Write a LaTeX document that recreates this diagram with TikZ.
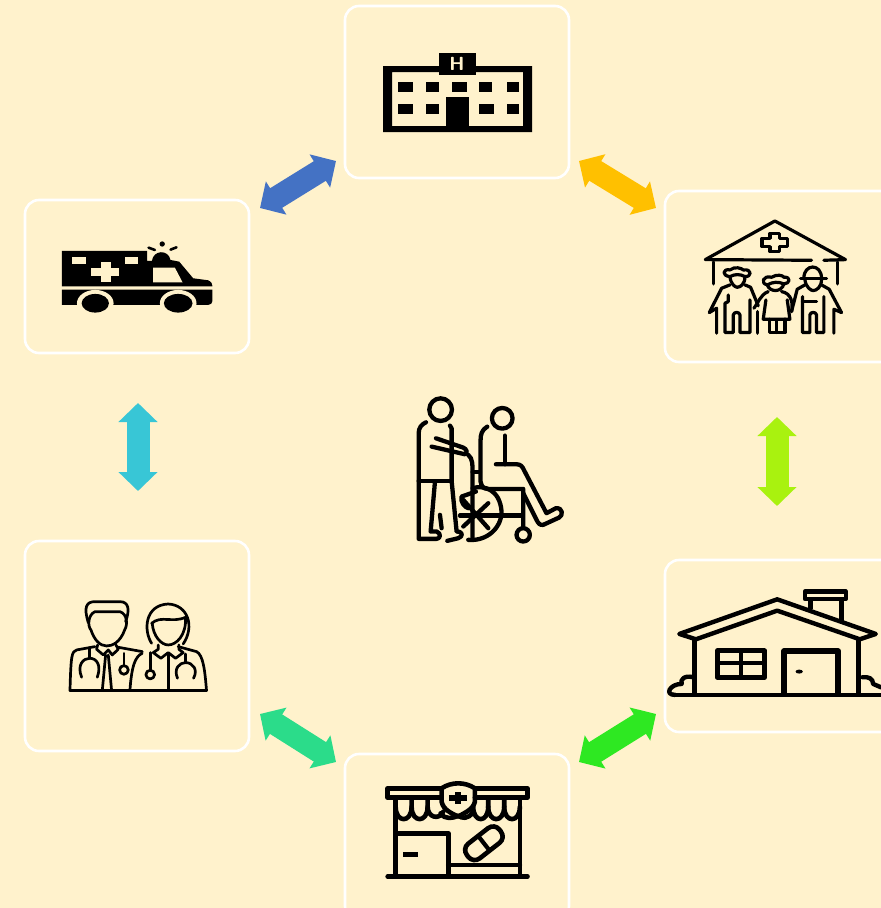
\documentclass[tikz,border=0pt]{standalone}
\usetikzlibrary{arrows.meta}
\definecolor{bg}{HTML}{FFF2CC}
\definecolor{arblue}{HTML}{4472C4}
\definecolor{aryellow}{HTML}{FFC000}
\definecolor{arlime}{HTML}{A9F20F}
\definecolor{argreen}{HTML}{2EE822}
\definecolor{arteal}{HTML}{2BDC8A}
\definecolor{arcyan}{HTML}{38C6D6}
\tikzset{
 card/.style={draw=white,line width=2.6pt,rounded corners=14pt,fill=bg},
 fat/.style={line width=23pt,{Triangle[length=19pt,width=38pt]}-{Triangle[length=19pt,width=38pt]}},
}
\begin{document}
\begin{tikzpicture}[x=1pt,y=-1pt]
\useasboundingbox (0,0) rectangle (881,908);
\fill[bg] (0,0) rectangle (881,908);
% cards
\draw[card] (345,6) rectangle (569,178); \node (hosp) at (457,92) {};
\draw[card] (665,191) rectangle (895,362); \node (care) at (775,276) {};
\draw[card] (665,560) rectangle (895,732); \node (home) at (775,646) {};
\draw[card] (345,754) rectangle (569,920); \node (pharm) at (457,837) {};
\draw[card] (25,541) rectangle (249,751); \node (docs) at (137,646) {};
\draw[card] (25,200) rectangle (249,353); \node (amb) at (137,276) {};
% connector ends
\coordinate (h1) at (260,208); \coordinate (h2) at (336,161);
\coordinate (y1) at (579,161); \coordinate (y2) at (656,208);
\coordinate (l1) at (777,417); \coordinate (l2) at (777,506);
\coordinate (g1) at (656,714); \coordinate (g2) at (579,762);
\coordinate (t1) at (336,762); \coordinate (t2) at (260,714);
\coordinate (c1) at (138,491); \coordinate (c2) at (138,403);
\draw[fat,arblue] (h1) -- (h2);
\draw[fat,aryellow] (y1) -- (y2);
\draw[fat,arlime] (l1) -- (l2);
\draw[fat,argreen] (g1) -- (g2);
\draw[fat,arteal] (t1) -- (t2);
\draw[fat,arcyan] (c1) -- (c2);
% hospital
\fill[even odd rule] (383,66) rectangle (532,132) (392,72) rectangle (523,126);
\fill (439,53) rectangle (476,75);
\fill (446,97) rectangle (469,128);
\foreach \x/\w in {398/15,426/13,452/15,479/13,507/12}{\fill (\x,82) rectangle +(\w,10);}
\foreach \x/\w in {398/15,426/13,479/15,507/12}{\fill (\x,104) rectangle +(\w,9.5);}
\node[text=bg,font=\bfseries\sffamily\fontsize{19}{19}\selectfont,inner sep=0pt] (hlabel) at (457,63.5) {H};
% care home
\begin{scope}[shift={(680,200)},x=0.333pt,y=-0.333pt]
\tikzset{ink/.style={draw=black,line width=3.2pt,line cap=round,line join=round}}
\draw[ink] (395,181) -- (76,179) -- (285,63) -- (497,179) -- (432,181);
\draw[ink] (100,186) -- (100,252); \draw[ink] (472,186) -- (472,252);
\draw[ink] (270,100) -- (298,100) -- (298,115) -- (322,115) -- (322,140) -- (298,140) -- (298,155) -- (270,155) -- (270,140) -- (246,140) -- (246,115) -- (270,115) -- cycle;
% left elder
\draw[ink] (150,230) .. controls (125,228) and (128,205) .. (150,210) .. controls (165,198) and (185,205) .. (190,210) .. controls (218,206) and (215,232) .. (195,230) .. controls (180,222) and (165,222) .. (150,230);
\draw[ink] (150,230) .. controls (152,252) and (165,262) .. (172,262) .. controls (182,262) and (195,252) .. (195,230);
\draw[ink] (150,255) -- (125,265) -- (88,338); \draw[ink] (195,255) -- (212,262) -- (235,318);
\draw[ink] (145,285) -- (145,305) -- (135,310) -- (135,398) -- (160,398) -- (160,345) .. controls (162,335) and (178,335) .. (180,345) -- (180,398) -- (210,398) -- (210,300);
\draw[ink] (88,338) -- (110,325) -- (110,400); \draw[ink] (232,335) -- (232,400);
% middle elder
\draw[ink] (262,255) .. controls (240,250) and (250,225) .. (275,232) .. controls (290,222) and (310,226) .. (312,232) .. controls (335,230) and (330,252) .. (312,252) .. controls (295,245) and (280,245) .. (262,255);
\draw[ink] (262,255) .. controls (270,278) and (305,278) .. (312,252);
\draw[ink] (265,275) .. controls (240,285) and (235,310) .. (222,325);
\draw[ink] (305,275) .. controls (335,280) and (340,310) .. (335,335);
\draw[ink] (258,300) -- (250,358) -- (330,358) -- (322,300);
\draw[ink] (268,358) -- (268,398) -- (315,398) -- (315,358); \draw[ink] (290,362) -- (290,398);
% right elder
\draw[ink] (372,235) .. controls (372,190) and (425,190) .. (425,235); \draw[ink] (362,235) -- (440,235);
\draw[ink] (375,238) .. controls (378,265) and (395,272) .. (400,272) .. controls (410,272) and (425,262) .. (425,238);
\draw[ink] (375,255) -- (352,268) -- (335,335);
\draw[ink] (425,255) -- (448,268) -- (485,338);
\draw[ink] (368,290) -- (368,398) -- (390,398) -- (390,345) .. controls (392,335) and (408,335) .. (410,345) -- (410,398) -- (432,398) -- (432,290);
\draw[ink] (368,305) -- (410,305);
\draw[ink] (485,338) -- (462,328) -- (462,400);
\end{scope}
% ambulance
\begin{scope}[shift={(40,225)},x=0.333pt,y=-0.333pt]
\fill (66,78) -- (322,78) -- (322,108) -- (336,108) .. controls (340,75) and (385,72) .. (392,105) -- (418,110) -- (460,160) -- (505,166) .. controls (515,170) and (518,178) .. (518,184) -- (66,184) -- cycle;
\fill (66,194) -- (518,194) -- (518,228) .. controls (518,235) and (512,240) .. (505,240) -- (66,240) -- cycle;
\fill[bg] (166,235) ellipse[x radius=55,y radius=40];
\fill[bg] (415,235) ellipse[x radius=55,y radius=40];
\fill[bg] (100,240) rectangle (230,270);
\fill[bg] (350,240) rectangle (480,270);
\fill (166,235) ellipse[x radius=41,y radius=28];
\fill (415,235) ellipse[x radius=43,y radius=28];
\fill[bg] (97,97) rectangle (137,118);
\fill[bg] (255,97) rectangle (294,118);
\fill[bg] (182,112) rectangle (212,170);
\fill[bg] (153,130) rectangle (237,154);
\fill[bg] (340,128) -- (405,128) -- (428,172) -- (340,172) -- cycle;
\fill (367,57) circle[radius=8];
\draw[black,line width=2.6pt,line cap=round] (326,68) -- (345,75);
\draw[black,line width=2.6pt,line cap=round] (392,74) -- (410,67);
\end{scope}
% centre figure
\begin{scope}[shift={(400,385)},x=0.333pt,y=-0.333pt]
\tikzset{ink/.style={draw=black,line width=4.3pt,line cap=round,line join=round}}
\draw[ink] (122,74) circle[radius=34];
\draw[ink] (307,100) circle[radius=31];
\draw[ink] (78,112) .. controls (65,118) and (56,128) .. (56,145) -- (56,462) -- (110,462) .. controls (122,462) and (124,445) .. (110,440) -- (92,440) -- (105,290);
\draw[ink] (56,288) -- (155,288);
\draw[ink] (150,122) -- (155,130) -- (155,288) -- (170,440) .. controls (190,440) and (190,455) .. (175,460) -- (142,468);
\draw[ink] (120,390) -- (125,430);
\draw[ink] (108,160) -- (190,188) .. controls (200,192) and (205,205) .. (195,208) -- (95,185);
\draw[ink] (205,210) .. controls (218,220) and (218,240) .. (218,262) -- (218,465);
\draw[ink] (218,262) -- (240,262);
\draw[ink] (218,310) .. controls (250,300) and (300,312) .. (305,380) .. controls (305,430) and (260,470) .. (205,465);
\draw[ink] (228,320) -- (185,335) .. controls (180,350) and (195,368) .. (205,370);
\draw[ink] (180,392) -- (365,392);
\draw[ink] (190,425) -- (265,355); \draw[ink] (190,345) -- (265,430);
\draw[ink] (262,125) .. controls (245,135) and (242,150) .. (242,165) -- (242,290) .. controls (245,305) and (250,312) .. (265,312) -- (370,312) -- (370,425);
\draw[ink] (315,152) -- (315,238);
\draw[ink] (288,238) -- (350,238) .. controls (362,238) and (368,245) .. (372,255) -- (440,385) -- (468,370) .. controls (490,368) and (490,392) .. (478,398) -- (430,420) .. controls (420,422) and (415,415) .. (410,405) -- (370,325);
\draw[ink] (370,450) circle[radius=20];
\end{scope}
% doctors
\begin{scope}[shift={(55,590)},x=0.333pt,y=-0.333pt]
\tikzset{ink/.style={draw=black,line width=2.7pt,line cap=round,line join=round}}
\draw[ink] (100,98) .. controls (85,50) and (95,35) .. (120,35) -- (195,35) .. controls (222,35) and (225,60) .. (212,95);
\draw[ink] (108,120) .. controls (98,110) and (98,75) .. (120,65) -- (195,65) .. controls (218,72) and (218,105) .. (210,118) .. controls (195,160) and (170,168) .. (155,168) .. controls (135,168) and (118,150) .. (108,120);
\draw[ink] (128,165) -- (125,178) -- (145,195) -- (160,180) -- (172,195) -- (190,178) -- (183,165);
\draw[ink] (120,170) -- (65,180) .. controls (50,185) and (48,195) .. (45,302) -- (455,302) .. controls (450,240) and (445,195) .. (425,185) -- (370,170);
\draw[ink] (190,172) -- (262,185);
\draw[ink] (152,195) -- (142,302); \draw[ink] (160,195) -- (170,302);
\draw[ink] (104,178) -- (104,205); \draw[ink] (80,262) .. controls (65,225) and (85,205) .. (104,205) .. controls (125,205) and (140,225) .. (127,262);
\draw[ink] (207,190) -- (207,228); \draw[ink] (207,240) circle[radius=13];
\draw[ink] (262,190) .. controls (240,200) and (230,230) .. (225,302);
\draw[ink] (290,160) .. controls (265,120) and (270,45) .. (340,42) .. controls (400,45) and (420,110) .. (385,162);
\draw[ink] (290,100) .. controls (320,75) and (350,100) .. (392,82);
\draw[ink] (292,100) .. controls (295,140) and (320,165) .. (340,165) .. controls (365,165) and (395,135) .. (392,82);
\draw[ink] (310,165) -- (310,178) -- (295,188) -- (318,205) -- (340,188) -- (362,205) -- (385,188) -- (372,178) -- (372,165);
\draw[ink] (340,190) -- (340,302);
\draw[ink] (286,188) -- (286,242); \draw[ink] (286,254) circle[radius=13];
\draw[ink] (392,192) -- (392,218); \draw[ink] (368,265) .. controls (355,235) and (375,218) .. (392,218) .. controls (415,218) and (430,240) .. (416,265);
\end{scope}
% house
\begin{scope}[shift={(660,580)},x=0.333pt,y=-0.333pt]
\tikzset{ink/.style={draw=black,line width=4.4pt,line join=round,line cap=round}}
\draw[ink] (58,162) -- (352,58) -- (648,162) -- (600,178) -- (352,92) -- (108,178) -- cycle;
\draw[black,line width=5pt] (105,178) -- (105,345);
\draw[black,line width=5pt] (597,178) -- (597,345);
\draw[ink] (45,345) -- (663,345);
\draw[ink] (100,292) .. controls (72,285) and (60,300) .. (65,312) .. controls (30,312) and (12,345) .. (45,345);
\draw[ink] (608,292) .. controls (625,290) and (640,295) .. (640,312) -- (663,322);
\draw[ink] (435,35) rectangle (558,57);
\draw[black,line width=4.6pt] (452,57) -- (452,88);
\draw[black,line width=4.6pt] (545,57) -- (545,125);
\draw[black,line width=5pt,line join=round] (172,213) rectangle (314,292);
\draw[black,line width=3.6pt] (243,213) -- (243,292); \draw[black,line width=3.6pt] (172,250) -- (314,250);
\draw[black,line width=5.4pt,line join=round] (372,345) -- (372,213) -- (535,213) -- (535,345);
\fill (418,275) ellipse[x radius=11,y radius=6];
\end{scope}
% pharmacy
\begin{scope}[shift={(375,775)},x=0.333pt,y=-0.333pt]
\tikzset{ink/.style={draw=black,line width=4.6pt,line join=round,line cap=round}}
\draw[ink] (200,40) -- (38,40) -- (38,68) -- (200,68);
\draw[ink] (300,40) -- (458,40) -- (458,68) -- (300,68);
\draw[ink] (62,68) -- (62,305); \draw[ink] (435,68) -- (435,305);
\draw[ink] (62,95) .. controls (62,145) and (110,145) .. (110,95) -- (110,68);
\draw[ink] (110,95) .. controls (110,145) and (158,145) .. (158,95) -- (158,68);
\draw[ink] (158,95) .. controls (158,130) and (195,135) .. (205,110);
\draw[ink] (340,68) -- (340,95) .. controls (340,145) and (388,145) .. (388,95) -- (388,68);
\draw[ink] (388,95) .. controls (388,145) and (435,145) .. (435,95);
\draw[ink] (295,95) .. controls (295,145) and (340,145) .. (340,95);
\draw[ink] (295,110) .. controls (280,135) and (260,130) .. (250,122) .. controls (235,130) and (210,135) .. (197,115);
\draw[ink] (200,40) .. controls (230,20) and (270,20) .. (300,40) -- (300,80) .. controls (295,105) and (265,115) .. (250,125) .. controls (230,115) and (205,105) .. (200,80) -- cycle;
\fill (240,50) rectangle (257,88);
\fill (222,60) rectangle (275,77);
\draw[ink] (62,175) -- (220,175) -- (220,305);
\draw[ink] (220,270) -- (435,270);
\draw[ink] (38,305) -- (458,305);
\fill (85,232) rectangle (130,245);
\begin{scope}[shift={(327,205)},rotate=38]
\draw[black,line width=4.6pt,rounded corners=8pt] (-62,-28) rectangle (62,28);
\draw[black,line width=4.2pt] (0,-28) -- (0,28);
\end{scope}
\end{scope}
\end{tikzpicture}
\end{document}
